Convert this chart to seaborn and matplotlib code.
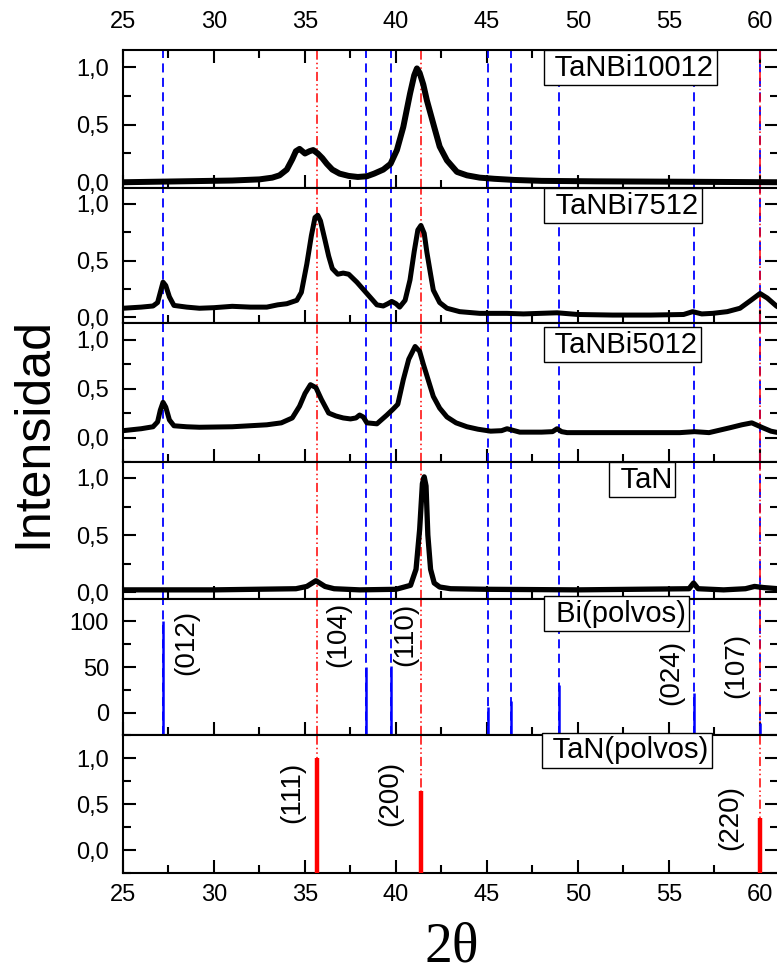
import numpy as np
import pandas as pd
import matplotlib
matplotlib.use("Agg")
import matplotlib.pyplot as plt
import matplotlib.transforms as mtransforms
from matplotlib.ticker import MultipleLocator, FuncFormatter
import seaborn as sns

# ---------------- data ----------------
sample_names = ["TaNBi10012", "TaNBi7512", "TaNBi5012", "TaN"]
ref_names = ["Bi(polvos)", "TaN(polvos)"]

x_10012 = [25, 27, 29, 31, 32.5, 33.2, 33.6, 34.0, 34.3, 34.5, 34.7, 35.0, 35.25, 35.45, 35.7,
           35.95, 36.2, 36.5, 36.9, 37.4, 37.9, 38.4, 38.8, 39.3, 39.7, 40.05, 40.4, 40.77, 41.0,
           41.15, 41.3, 41.5, 41.7, 42.1, 42.4, 42.8, 43.35, 43.9, 44.6, 45.4, 46.5, 48, 51, 55, 61]
y_10012 = [0.0, 0.005, 0.01, 0.015, 0.025, 0.04, 0.06, 0.11, 0.2, 0.27, 0.29, 0.25, 0.27, 0.28, 0.25,
           0.21, 0.16, 0.11, 0.075, 0.055, 0.046, 0.052, 0.075, 0.11, 0.16, 0.28, 0.48, 0.77, 0.93,
           0.99, 0.95, 0.85, 0.71, 0.48, 0.31, 0.19, 0.09, 0.06, 0.04, 0.03, 0.02, 0.012, 0.008, 0.005, 0.0]

x_7512 = [25, 26, 26.65, 26.9, 27.05, 27.2, 27.35, 27.55, 27.8, 28.5, 29.2, 30, 31, 32, 32.9,
          33.5, 34, 34.55, 34.8, 35.1, 35.35, 35.55, 35.7, 35.85, 36.1, 36.3, 36.5, 36.8, 37.1,
          37.4, 37.85, 38.4, 38.95, 39.3, 39.55, 39.77, 40.0, 40.2, 40.5, 40.77, 41.0, 41.2, 41.37,
          41.55, 41.7, 41.9, 42.05, 42.4, 42.8, 43.5, 44.6, 46.1, 47, 48.85, 50, 51.9, 54, 55.8,
          56.3, 56.8, 57.4, 58.2, 58.9, 59.5, 60.0, 60.4, 60.9, 61]
y_7512 = [0.08, 0.09, 0.1, 0.13, 0.22, 0.31, 0.28, 0.18, 0.105, 0.09, 0.08, 0.085, 0.097, 0.09, 0.09,
          0.11, 0.12, 0.15, 0.22, 0.47, 0.72, 0.88, 0.9, 0.85, 0.68, 0.54, 0.43, 0.38, 0.39,
          0.38, 0.31, 0.21, 0.11, 0.10, 0.12, 0.14, 0.12, 0.09, 0.15, 0.33, 0.58, 0.77, 0.81,
          0.74, 0.57, 0.38, 0.24, 0.13, 0.08, 0.05, 0.035, 0.035, 0.03, 0.04, 0.025, 0.02, 0.02, 0.025,
          0.05, 0.03, 0.035, 0.05, 0.08, 0.15, 0.21, 0.17, 0.1, 0.09]

x_5012 = [25, 26, 26.65, 26.9, 27.05, 27.2, 27.35, 27.55, 27.8, 28.5, 29.2, 31, 32.9, 33.7, 34.3,
          34.7, 35.0, 35.3, 35.6, 35.9, 36.3, 36.7, 37.1, 37.5, 37.8, 38.0, 38.2, 38.4, 38.95,
          39.5, 39.84, 40.1, 40.4, 40.7, 41.05, 41.3, 41.5, 41.8, 42.05, 42.4, 42.8, 43.3, 43.9,
          44.5, 45.2, 45.8, 46.1, 46.5, 46.8, 48, 48.6, 48.85, 49.1, 49.4, 52, 55.6, 56.4, 57.2,
          58.35, 59.0, 59.55, 60.15, 60.6, 61]
y_5012 = [0.07, 0.09, 0.11, 0.16, 0.28, 0.36, 0.31, 0.18, 0.12, 0.11, 0.105, 0.11, 0.13, 0.15, 0.2,
          0.32, 0.45, 0.54, 0.51, 0.39, 0.25, 0.22, 0.2, 0.19, 0.2, 0.23, 0.21, 0.15, 0.14,
          0.23, 0.29, 0.34, 0.59, 0.8, 0.93, 0.88, 0.75, 0.57, 0.42, 0.3, 0.21, 0.15, 0.11,
          0.085, 0.065, 0.07, 0.09, 0.07, 0.055, 0.055, 0.06, 0.09, 0.06, 0.05, 0.05, 0.05, 0.06, 0.05,
          0.1, 0.13, 0.15, 0.1, 0.065, 0.05]

x_tan = [25, 30, 34.5, 35.1, 35.4, 35.6, 35.8, 36.1, 36.6, 38, 40, 40.8, 41.1, 41.3, 41.45, 41.55,
         41.65, 41.75, 41.9, 42.1, 42.4, 43, 45, 50, 56.1, 56.35, 56.6, 58, 59.2, 59.7, 60.2, 61]
y_tan = [0.02, 0.02, 0.03, 0.05, 0.08, 0.1, 0.08, 0.05, 0.03, 0.02, 0.025, 0.06, 0.2, 0.55, 0.95, 1.01,
         0.93, 0.5, 0.2, 0.08, 0.045, 0.03, 0.025, 0.02, 0.03, 0.08, 0.03, 0.02, 0.03, 0.05, 0.04, 0.03]

bi_pos = [27.18, 38.35, 39.7, 45.05, 46.3, 48.95, 56.4, 60.0]
bi_int = [100, 50, 51, 7, 13, 30, 22, -11]
bi_hkl = ["(012)", "(104)", "(110)", "(024)", "(107)"]

tan_pos = [35.66, 41.39, 60.02]
tan_int = [1.0, 0.64, 0.35]
tan_hkl = ["(111)", "(200)", "(220)"]

xticks = [25, 30, 35, 40, 45, 50, 55, 60]

# ---------------- style ----------------
sns.set_style("ticks")
plt.rcParams["font.family"] = ["Liberation Sans", "DejaVu Sans"]
plt.rcParams.update({"text.color": "black", "axes.labelcolor": "black",
                     "xtick.color": "black", "ytick.color": "black",
                     "axes.edgecolor": "black", "axes.linewidth": 1.5})

W, H = 777, 977
fig = plt.figure(figsize=(W / 100, H / 100), dpi=100)

panel_px = [(50, 188), (188, 323), (323, 462), (462, 599), (599, 735), (735, 873)]
left_px, right_px = 123, 778.2
ylims = [(-0.05, 1.15), (-0.05, 1.14), (-0.25, 1.17), (-0.06, 1.14), (-24, 124), (-0.25, 1.25)]

curves = [(x_10012, y_10012, 4.3), (x_7512, y_7512, 3.6), (x_5012, y_5012, 3.6), (x_tan, y_tan, 3.8)]
labels_all = sample_names + ref_names
box_x = [48.3, 48.35, 48.3, 51.9, 48.35, 48.2]
box_y = [0.872, 0.867, 0.845, 0.872, 0.893, 0.888]

comma = FuncFormatter(lambda v, p: f"{v:.1f}".replace(".", ","))
intfmt = FuncFormatter(lambda v, p: f"{v:.0f}")

axes = []
for i, (top, bot) in enumerate(panel_px):
    ax = fig.add_axes([left_px / W, 1 - bot / H, (right_px - left_px) / W, (bot - top) / H])
    axes.append(ax)
    ax.set_xlim(25, 61)
    ax.set_ylim(*ylims[i])
    ax.set_xticks(xticks)
    ax.xaxis.set_minor_locator(MultipleLocator(2.5))
    if i == 4:
        ax.yaxis.set_major_locator(MultipleLocator(50))
        ax.yaxis.set_minor_locator(MultipleLocator(25))
        ax.yaxis.set_major_formatter(intfmt)
    else:
        ax.yaxis.set_major_locator(MultipleLocator(0.5))
        ax.yaxis.set_minor_locator(MultipleLocator(0.25))
        ax.yaxis.set_major_formatter(comma)
    ax.tick_params(which="both", direction="in", width=1.5, right=True, left=True,
                   top=(i == 0), bottom=True, labeltop=(i == 0), labelbottom=(i == 5),
                   labelsize=17, colors="black")
    ax.tick_params(which="major", length=9.5)
    ax.tick_params(which="minor", length=5.5)
    ax.tick_params(axis="y", pad=10)
    ax.tick_params(axis="x", pad=8)
    if i == 0:
        ax.tick_params(axis="x", pad=12)
    for s in ax.spines.values():
        s.set_linewidth(1.5)
        s.set_color("black")

    # reference lines
    if i <= 4:
        for xp in bi_pos:
            ax.axvline(xp, color="#0000ff", lw=1.3, ls=(0, (5, 3)), zorder=1)
    for xp in tan_pos:
        ax.axvline(xp, color="#ff0000", lw=1.1, ls=(0, (6, 2, 1, 2, 1, 2)), zorder=1)

    if i < 4:
        xs, ys, lw = curves[i]
        df = pd.DataFrame({"x": xs, "y": ys})
        sns.lineplot(data=df, x="x", y="y", ax=ax, color="black", lw=lw,
                     estimator=None, sort=False, legend=False, zorder=3)
    ax.set_xlabel("")
    ax.set_ylabel("")

    trans = mtransforms.blended_transform_factory(ax.transData, ax.transAxes)
    ax.text(box_x[i], box_y[i], " " + labels_all[i], transform=trans, fontsize=21,
            ha="left", va="center", zorder=10, color="black",
            bbox=dict(boxstyle="square,pad=0.12", fc="white", ec="black", lw=1.0))

# Bi reference sticks
ax5 = axes[4]
ax5.vlines(bi_pos, ylims[4][0], bi_int, color="#0000ff", lw=1.8, zorder=3)
bi_lab_xy = [(28.45, 77), (36.8, 85), (40.5, 86), (55.1, 44), (58.7, 52)]
for t, (xx, yy) in zip(bi_hkl, bi_lab_xy):
    ax5.text(xx, yy, t, rotation=90, ha="center", va="center", fontsize=20, zorder=5)

# TaN reference sticks
ax6 = axes[5]
ax6.vlines(tan_pos, ylims[5][0], tan_int, color="#ff0000", lw=3.2, zorder=3)
tan_lab_xy = [(34.3, 0.63), (39.7, 0.62), (58.35, 0.35)]
for t, (xx, yy) in zip(tan_hkl, tan_lab_xy):
    ax6.text(xx, yy, t, rotation=90, ha="center", va="center", fontsize=20, zorder=5)

fig.text(33 / W, 1 - 433 / H, "Intensidad", rotation=90, fontsize=36, ha="center", va="center")
fig.text(452 / W, 1 - 948 / H, "2θ", fontsize=40, ha="center", va="center",
         family=["Liberation Serif", "DejaVu Serif"])

fig.savefig("out.png", dpi=100)
